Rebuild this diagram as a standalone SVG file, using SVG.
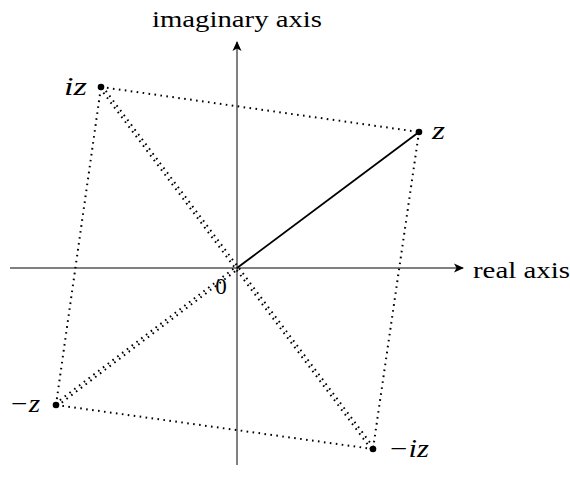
<svg xmlns="http://www.w3.org/2000/svg" width="570" height="493" viewBox="0 0 570 493">
<style>
.ax{stroke:#000;stroke-width:1;fill:none}
.dot{stroke:#000;stroke-width:2;stroke-dasharray:1.6 4.4;fill:none}
.t{font-family:'Liberation Serif','Times New Roman',serif;fill:#000;font-size:23px}
.m{font-family:'Liberation Serif','Times New Roman',serif;font-style:italic;font-size:25px;fill:#000}
</style>
<defs>
<marker id="arr" markerWidth="12" markerHeight="10" refX="9" refY="5" orient="auto" markerUnits="userSpaceOnUse">
<path d="M0,0.5 L10,5 L0,9.5 L2.5,5 Z" fill="#000"/>
</marker>
</defs>
<rect width="570" height="493" fill="#fff"/>
<g id="connectors">
<line class="ax" x1="10" y1="268" x2="463" y2="268" marker-end="url(#arr)"/>
<line class="ax" x1="237" y1="465" x2="237" y2="42" marker-end="url(#arr)"/>
<line class="dot" x1="101" y1="87" x2="419" y2="132"/>
<line class="dot" x1="419" y1="132" x2="373" y2="449"/>
<line class="dot" x1="373" y1="449" x2="56" y2="405"/>
<line class="dot" x1="56" y1="405" x2="101" y2="87"/>
<line class="dot" x1="102.2" y1="86.1" x2="374.2" y2="448.1"/>
<line class="dot" x1="99.8" y1="87.9" x2="371.8" y2="449.9"/>
<line class="dot" x1="56.9" y1="406.2" x2="237.9" y2="269.2"/>
<line class="dot" x1="55.1" y1="403.8" x2="236.1" y2="266.8"/>
<line x1="237" y1="268" x2="419" y2="132" stroke="#000" stroke-width="1.8"/>
</g>
<g id="origin"><text class="t" x="221" y="294" text-anchor="middle">0</text></g>
<g id="z"><circle cx="419" cy="132" r="3.3"/><text class="m" x="432" y="139" textLength="13" lengthAdjust="spacingAndGlyphs">z</text></g>
<g id="iz"><circle cx="101" cy="87" r="3.3"/><text class="m" x="64" y="95" textLength="23" lengthAdjust="spacingAndGlyphs">iz</text></g>
<g id="mz"><circle cx="56" cy="405" r="3.3"/><text class="m" x="9" y="412" textLength="31" lengthAdjust="spacingAndGlyphs">−z</text></g>
<g id="miz"><circle cx="373" cy="449" r="3.3"/><text class="m" x="388" y="457" textLength="41" lengthAdjust="spacingAndGlyphs">−iz</text></g>
<g id="labels">
<text class="t" x="237" y="27" text-anchor="middle" textLength="170" lengthAdjust="spacingAndGlyphs">imaginary axis</text>
<text class="t" x="473" y="278" textLength="97" lengthAdjust="spacingAndGlyphs">real axis</text>
</g>
</svg>
